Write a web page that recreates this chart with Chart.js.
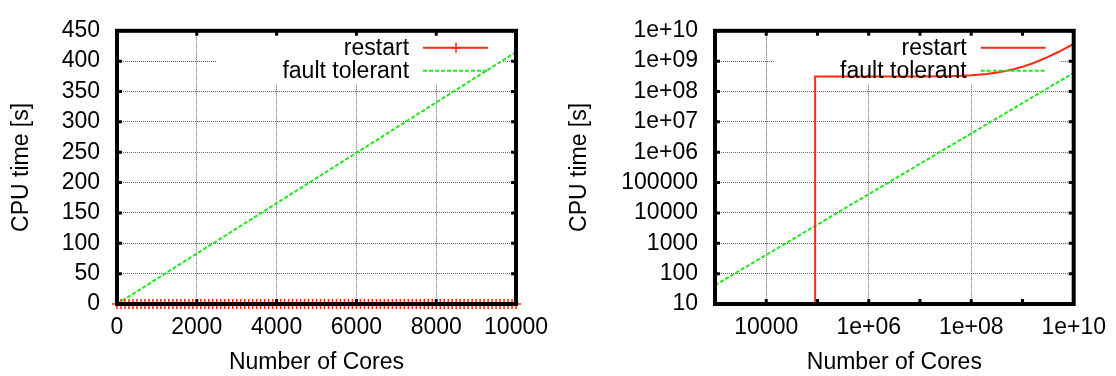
<!DOCTYPE html>
<html>
<head>
<meta charset="utf-8">
<script src="https://cdn.jsdelivr.net/npm/chart.js@4.4.1/dist/chart.umd.min.js"></script>
<style>
  html, body { margin: 0; padding: 0; background: #fff; }
  #wrap { display: flex; width: 1116px; height: 376px; }
  .box { width: 558px; height: 376px; }
</style>
</head>
<body>
<div id="wrap">
  <div class="box"><canvas id="linChart" width="558" height="376"></canvas></div>
  <div class="box"><canvas id="logChart" width="558" height="376"></canvas></div>
</div>
<script>
// ---- values ----
const seriesNames = ['restart', 'fault tolerant'];

// left panel (linear axes)
const linCores = [
  0, 100, 200, 300, 400, 500, 600, 700, 800, 900,
  1000, 1100, 1200, 1300, 1400, 1500, 1600, 1700, 1800, 1900,
  2000, 2100, 2200, 2300, 2400, 2500, 2600, 2700, 2800, 2900,
  3000, 3100, 3200, 3300, 3400, 3500, 3600, 3700, 3800, 3900,
  4000, 4100, 4200, 4300, 4400, 4500, 4600, 4700, 4800, 4900,
  5000, 5100, 5200, 5300, 5400, 5500, 5600, 5700, 5800, 5900,
  6000, 6100, 6200, 6300, 6400, 6500, 6600, 6700, 6800, 6900,
  7000, 7100, 7200, 7300, 7400, 7500, 7600, 7700, 7800, 7900,
  8000, 8100, 8200, 8300, 8400, 8500, 8600, 8700, 8800, 8900,
  9000, 9100, 9200, 9300, 9400, 9500, 9600, 9700, 9800, 9900,
  10000
];
const linRestart = [
  0, 0, 0, 0, 0, 0, 0, 0, 0, 0,
  0, 0, 0, 0, 0, 0, 0, 0, 0, 0,
  0, 0, 0, 0, 0, 0, 0, 0, 0, 0,
  0, 0, 0, 0, 0, 0, 0, 0, 0, 0,
  0, 0, 0, 0, 0, 0, 0, 0, 0, 0,
  0, 0, 0, 0, 0, 0, 0, 0, 0, 0,
  0, 0, 0, 0, 0, 0, 0, 0, 0, 0,
  0, 0, 0, 0, 0, 0, 0, 0, 0, 0,
  0, 0, 0, 0, 0, 0, 0, 0, 0, 0,
  0, 0, 0, 0, 0, 0, 0, 0, 0, 0,
  0
];
const linFaultCores = [0, 2000, 4000, 6000, 8000, 10000];
const linFault = [0, 83, 166, 249, 332, 415];
const linXTicks = [0, 2000, 4000, 6000, 8000, 10000];
const linXLabels = ['0', '2000', '4000', '6000', '8000', '10000'];
const linYTicks = [0, 50, 100, 150, 200, 250, 300, 350, 400, 450];

// right panel (log axes); restart is below the axis (< 10) before the jump
const logRestartCores = [1e3, 1e4, 9e4, 9e4, 1e6, 1e7, 3e7, 5e7, 1e8, 1.5e8, 2e8, 3e8,
  5e8, 7e8, 1e9, 1.5e9, 2e9, 3e9, 5e9, 7e9, 1e10];
const logRestart = [1, 1, 1, 3.1e8, 3.1e8, 3.13e8, 3.2e8, 3.27e8, 3.44e8, 3.61e8, 3.78e8, 4.12e8,
  4.8e8, 5.48e8, 6.5e8, 8.2e8, 9.9e8, 1.33e9, 2.0e9, 2.7e9, 3.7e9];
const logFaultCores = [1e3, 1e4, 1e5, 1e6, 1e7, 1e8, 1e9, 1e10];
const logFault = [41.5, 415, 4150, 41500, 415000, 4.15e6, 4.15e7, 4.15e8];
const logXTicks = [1e4, 1e6, 1e8, 1e10];
const logXLabels = ['10000', '1e+06', '1e+08', '1e+10'];
const logXMarks = [1e4, 1e5, 1e6, 1e7, 1e8, 1e9];
const logYTicks = [10, 100, 1000, 1e4, 1e5, 1e6, 1e7, 1e8, 1e9, 1e10];
const logYLabels = ['10', '100', '1000', '10000', '100000', '1e+06', '1e+07', '1e+08', '1e+09', '1e+10'];

const RED = '#ff2a10';
const GREEN = '#1fe81f';
const FONT = '"Liberation Sans", Arial, sans-serif';
const FSIZE = 23;

function pts(xs, ys) {
  return xs.map((x, i) => ({ x: x, y: ys[i] }));
}

// gnuplot look: blank key area, thick frame, inward tics, key drawn by hand
const gnuFrame = {
  id: 'gnuFrame',
  beforeDatasetsDraw(chart) {
    const a = chart.chartArea, ctx = chart.ctx;
    ctx.save();
    ctx.fillStyle = '#fff';
    ctx.fillRect(a.right - 300, a.top, 286, 53);
    ctx.restore();
  },
  afterDatasetsDraw(chart, args, opts) {
    const a = chart.chartArea, ctx = chart.ctx;
    const xs = chart.scales.x, ys = chart.scales.y;
    ctx.save();
    ctx.strokeStyle = '#000';
    ctx.lineWidth = 3;
    ctx.beginPath();
    opts.xMarks.forEach(v => {
      const p = xs.getPixelForValue(v);
      ctx.moveTo(p, a.bottom); ctx.lineTo(p, a.bottom - 5);
      ctx.moveTo(p, a.top); ctx.lineTo(p, a.top + 5);
    });
    opts.yMarks.forEach(v => {
      const p = ys.getPixelForValue(v);
      ctx.moveTo(a.left, p); ctx.lineTo(a.left + 5, p);
      ctx.moveTo(a.right, p); ctx.lineTo(a.right - 5, p);
    });
    ctx.stroke();
    ctx.lineWidth = 4;
    ctx.strokeRect(a.left, a.top, a.right - a.left, a.bottom - a.top);

    ctx.font = FSIZE + 'px ' + FONT;
    ctx.textAlign = 'right';
    ctx.textBaseline = 'middle';
    chart.data.datasets.forEach((ds, i) => {
      const y = a.top + 17 + i * 23;
      ctx.fillStyle = '#000';
      ctx.fillText(ds.label, a.right - 107, y + 1);
      ctx.strokeStyle = ds.borderColor;
      ctx.lineWidth = ds.borderWidth;
      ctx.setLineDash(ds.borderDash || []);
      ctx.beginPath();
      ctx.moveTo(a.right - 93, y); ctx.lineTo(a.right - 28, y);
      ctx.stroke();
      ctx.setLineDash([]);
      if (ds.pointRadius > 0) {
        const cx = a.right - 60, r = ds.pointRadius;
        ctx.lineWidth = ds.pointBorderWidth;
        ctx.beginPath();
        ctx.moveTo(cx - r, y); ctx.lineTo(cx + r, y);
        ctx.moveTo(cx, y - r); ctx.lineTo(cx, y + r);
        ctx.stroke();
      }
    });
    ctx.restore();
  }
};

function axisTitle(text, pad) {
  return { display: true, text: text, color: '#000', font: { family: FONT, size: FSIZE }, padding: pad };
}

const gridDash = { display: false, dash: [1, 1] };

function makeChart(id, datasets, xOpts, yOpts, axisLeft, marks) {
  return new Chart(document.getElementById(id), {
    type: 'scatter',
    data: { datasets: datasets },
    plugins: [gnuFrame],
    options: {
      responsive: false,
      animation: false,
      events: [],
      layout: { padding: { left: 0, right: 41, top: 15, bottom: 0 } },
      plugins: {
        legend: { display: false },
        tooltip: { enabled: false },
        gnuFrame: marks
      },
      scales: {
        x: Object.assign({
          grid: { color: '#666', lineWidth: 1, drawTicks: false },
          border: gridDash,
          title: axisTitle('Number of Cores', { top: 0, bottom: 0 }),
          afterFit: s => { s.height = 72; }
        }, xOpts),
        y: Object.assign({
          grid: { color: '#666', lineWidth: 1, drawTicks: false },
          border: gridDash,
          title: axisTitle('CPU time [s]', { top: 8, bottom: 0 }),
          afterFit: s => { s.width = axisLeft; }
        }, yOpts)
      }
    }
  });
}

const tickFont = { family: FONT, size: FSIZE };

makeChart('linChart', [
  {
    label: seriesNames[0], data: pts(linCores, linRestart), showLine: true,
    borderColor: RED, borderWidth: 2, pointStyle: 'cross', pointRadius: 5,
    pointBorderColor: RED, pointBorderWidth: 1.5, clip: false
  },
  {
    label: seriesNames[1], data: pts(linFaultCores, linFault), showLine: true,
    borderColor: GREEN, borderWidth: 2, borderDash: [4, 2], pointRadius: 0
  }
], {
  type: 'linear', min: 0, max: 10000,
  afterBuildTicks: s => { s.ticks = linXTicks.map(v => ({ value: v })); },
  ticks: { color: '#000', font: tickFont, padding: 10, maxRotation: 0, autoSkip: false,
    callback: (v, i) => linXLabels[i] }
}, {
  type: 'linear', min: 0, max: 450,
  afterBuildTicks: s => { s.ticks = linYTicks.map(v => ({ value: v })); },
  ticks: { color: '#000', font: tickFont, padding: 17, autoSkip: false }
}, 117, { xMarks: linXTicks, yMarks: linYTicks });

makeChart('logChart', [
  {
    label: seriesNames[0], data: pts(logRestartCores, logRestart), showLine: true,
    borderColor: RED, borderWidth: 2, pointRadius: 0
  },
  {
    label: seriesNames[1], data: pts(logFaultCores, logFault), showLine: true,
    borderColor: GREEN, borderWidth: 2, borderDash: [4, 2], pointRadius: 0
  }
], {
  type: 'logarithmic', min: 1000, max: 1e10,
  afterBuildTicks: s => { s.ticks = logXTicks.map(v => ({ value: v })); },
  ticks: { color: '#000', font: tickFont, padding: 10, maxRotation: 0, autoSkip: false,
    callback: (v, i) => logXLabels[i] }
}, {
  type: 'logarithmic', min: 10, max: 1e10,
  afterBuildTicks: s => { s.ticks = logYTicks.map(v => ({ value: v })); },
  ticks: { color: '#000', font: tickFont, padding: 17, autoSkip: false,
    callback: (v, i) => logYLabels[i] }
}, 157, { xMarks: logXMarks, yMarks: logYTicks });
</script>
</body>
</html>
